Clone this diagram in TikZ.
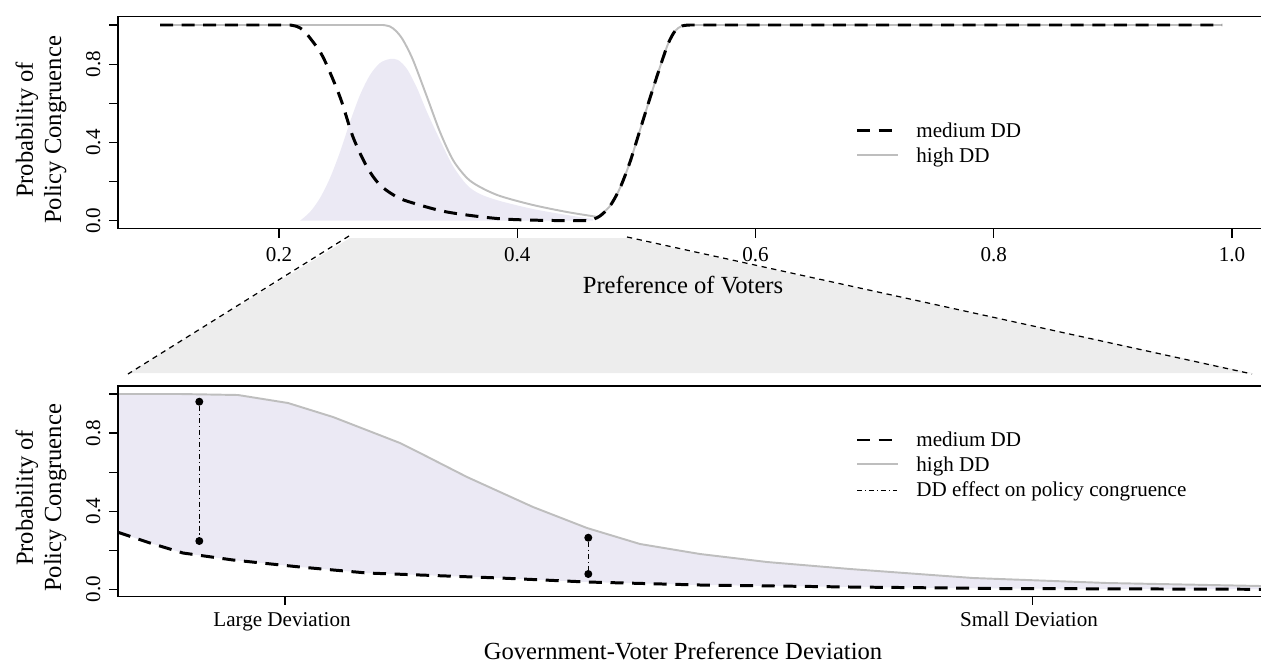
\documentclass[tikz,border=0pt]{standalone}
\usepackage{fontspec}
\setmainfont{Liberation Serif}
\definecolor{ddlavender}{RGB}{235,233,244}
\definecolor{zoomgray}{RGB}{237,237,237}
\definecolor{highgray}{RGB}{190,190,190}
\tikzset{
  medline/.style={line width=1.7pt, dash pattern=on 7.4pt off 4.9pt},
  highline/.style={line width=1.1pt, color=highgray},
  frame/.style={line width=0.7pt},
  effectline/.style={line width=0.5pt, dash pattern=on 3pt off 1.5pt on 0.8pt off 1.5pt},
  zoomline/.style={line width=0.7pt, dash pattern=on 3pt off 2.6pt},
  dot/.style={circle, fill=black, inner sep=0pt, minimum size=0.16cm},
  ticklab/.style={anchor=base, inner sep=0pt},
  axtitle/.style={anchor=base, inner sep=0pt, font=\fontsize{14}{16}\selectfont},
  leglab/.style={anchor=base west, inner sep=0pt},
  ylab/.style={rotate=90, align=center, font=\fontsize{14}{16}\selectfont}
}
\begin{document}
\begin{tikzpicture}[x=0.02cm, y=-0.02cm, font=\fontsize{12}{14}\selectfont]
  \useasboundingbox (0, 0) rectangle (1261, 666);
  % zoom area
  \fill [zoomgray] (350, 238) -- (627, 238) -- (1252, 373) -- (129, 373) -- cycle;
  \coordinate (zl1) at (349, 236);
  \coordinate (zl2) at (128, 374);
  \coordinate (zr1) at (627, 237);
  \coordinate (zr2) at (1252, 374);
  \draw [zoomline] (zl1) -- (zl2);
  \draw [zoomline] (zr1) -- (zr2);

  % top panel: density of voters
  \fill [ddlavender] plot [smooth, tension=0.5] coordinates {(300, 220.7) (310, 212) (320, 198)
    (330, 178) (340, 152) (350, 122) (360, 95) (370, 75) (380, 63) (390, 59) (398, 60) (407, 69)
    (417, 88) (427, 112) (440, 140) (453, 166) (467, 185) (480, 194) (500, 201) (533, 209)
    (567, 215) (593, 219)} -- (593, 220.7) -- cycle;
  % top panel: high DD
  \draw [highline] (160, 25) -- (383, 25) -- plot [smooth, tension=0.5] coordinates {(383, 25)
    (390, 26.5) (396, 31) (403, 40) (413, 60) (427, 97) (440, 132) (453, 160) (467, 178)
    (480, 187) (500, 196) (533, 205) (567, 212) (598, 217)} -- plot [smooth, tension=0.5]
    coordinates {(598, 217) (610, 206) (620, 188) (630, 162) (640, 130) (650, 98) (660, 67)
    (668, 44) (675, 31) (682, 26) (690, 25)} -- (1222, 25);
  % top panel: medium DD
  \draw [medline] (160, 25) -- (290, 25) -- plot [smooth, tension=0.5] coordinates {(290, 25)
    (297, 26.5) (303, 30) (310, 38) (323, 57) (340, 97) (353, 137) (367, 167) (380, 185)
    (397, 197) (413, 203) (447, 212) (497, 218.5) (540, 220.3) (588, 220.7)} -- plot [smooth,
    tension=0.5] coordinates {(590, 220.7) (600, 216) (610, 206) (620, 188) (630, 162)
    (640, 130) (650, 98) (660, 67) (668, 44) (675, 31) (682, 26) (690, 25)} -- (1222, 25);
  % top panel: frame
  \draw [frame] (1261, 16.7) -- (118, 16.7) -- (118, 228.7) -- (1261, 228.7);
  % top panel: y-axis
  \draw [frame] (109, 25) -- (118, 25);
  \foreach \v in {0, 0.2, 0.4, 0.6, 0.8}
    \draw [frame] (109, 220.7 - 195.7*\v) -- (118, 220.7 - 195.7*\v);
  \foreach \v/\t in {0/0.0, 0.4/0.4, 0.8/0.8}
    \node [ticklab, rotate=90] (ty\v) at (100, 220.7 - 195.7*\v) {\t};
  % top panel: x-axis
  \foreach \i/\t in {0/0.2, 1/0.4, 2/0.6, 3/0.8, 4/1.0} {
    \draw [frame] (279 + 238.25*\i, 228.7) -- (279 + 238.25*\i, 237.7);
    \node [ticklab] (tx\i) at (279 + 238.25*\i, 261.7) {\t};
  }
  \node [axtitle] (xlabtop) at (683, 293) {Preference of Voters};
  \node [ylab] (ylabtop) at (41, 130) {Probability of\\Policy Congruence};
  % top panel: legend
  \coordinate (lt1a) at (857, 130.7);
  \coordinate (lt1b) at (893, 130.7);
  \coordinate (lt2a) at (857, 155);
  \coordinate (lt2b) at (898, 155);
  \draw [medline] (lt1a) -- (lt1b);
  \draw [highline] (lt2a) -- (lt2b);
  \node [leglab] (legtop1) at (916, 137.3) {medium DD};
  \node [leglab] (legtop2) at (916, 162) {high DD};

  % bottom panel: DD effect area
  \fill [ddlavender] (118, 394) -- (180, 394) -- (238, 395) -- (288, 403) -- (333, 417)
    -- (400, 443) -- (420, 453) -- (467, 477) -- (533, 507) -- (587, 528) -- (640, 544)
    -- (700, 554) -- (767, 562) -- (850, 569) -- (973, 578) -- (1107, 583) -- (1261, 586)
    -- (1261, 589.3) -- (1000, 588.5) -- (850, 587) -- (700, 585) -- (587, 582) -- (500, 578)
    -- (420, 575) -- (367, 573) -- (300, 567) -- (233, 560) -- (183, 553) -- (150, 543)
    -- (118, 532.3) -- cycle;
  % bottom panel: high DD
  \draw [highline] (118, 394) -- (180, 394) -- (238, 395) -- (288, 403) -- (333, 417)
    -- (400, 443) -- (420, 453) -- (467, 477) -- (533, 507) -- (587, 528) -- (640, 544)
    -- (700, 554) -- (767, 562) -- (850, 569) -- (973, 578) -- (1107, 583) -- (1261, 586);
  % bottom panel: medium DD
  \draw [medline] (118, 532.3) -- (150, 543) -- (183, 553) -- (233, 560) -- (300, 567)
    -- (367, 573) -- (420, 575) -- (500, 578) -- (587, 582) -- (700, 585) -- (850, 587)
    -- (1000, 588.5) -- (1261, 589.3);
  % bottom panel: DD effect
  \node [dot] (e1top) at (199.3, 401.7) {};
  \node [dot] (e1bot) at (199.3, 541) {};
  \node [dot] (e2top) at (588.3, 537.7) {};
  \node [dot] (e2bot) at (588.3, 574) {};
  \draw [effectline] (e1top) -- (e1bot);
  \draw [effectline] (e2top) -- (e2bot);
  % bottom panel: frame
  \draw [frame] (1261, 386) -- (118, 386) -- (118, 596.7) -- (1261, 596.7);
  % bottom panel: y-axis
  \draw [frame] (109, 394) -- (118, 394);
  \foreach \v in {0, 0.2, 0.4, 0.6, 0.8}
    \draw [frame] (109, 589.3 - 195.3*\v) -- (118, 589.3 - 195.3*\v);
  \foreach \v/\t in {0/0.0, 0.4/0.4, 0.8/0.8}
    \node [ticklab, rotate=90] (by\v) at (100, 589.3 - 195.3*\v) {\t};
  % bottom panel: x-axis
  \draw [frame] (285, 596.7) -- (285, 605);
  \draw [frame] (1032.7, 596.7) -- (1032.7, 605);
  \node [ticklab] (large) at (282, 626) {Large Deviation};
  \node [ticklab] (small) at (1029, 626) {Small Deviation};
  \node [axtitle] (xlabbot) at (683, 659) {Government-Voter Preference Deviation};
  \node [ylab] (ylabbot) at (41, 498) {Probability of\\Policy Congruence};
  % bottom panel: legend
  \coordinate (lb1a) at (857, 440);
  \coordinate (lb1b) at (893, 440);
  \coordinate (lb2a) at (857, 464.3);
  \coordinate (lb2b) at (898, 464.3);
  \coordinate (lb3a) at (857, 490.7);
  \coordinate (lb3b) at (897, 490.7);
  \draw [medline] (lb1a) -- (lb1b);
  \draw [highline] (lb2a) -- (lb2b);
  \draw [effectline] (lb3a) -- (lb3b);
  \node [leglab] (legbot1) at (916, 446.7) {medium DD};
  \node [leglab] (legbot2) at (916, 471.7) {high DD};
  \node [leglab] (legbot3) at (916, 496.7) {DD effect on policy congruence};
\end{tikzpicture}
\end{document}
